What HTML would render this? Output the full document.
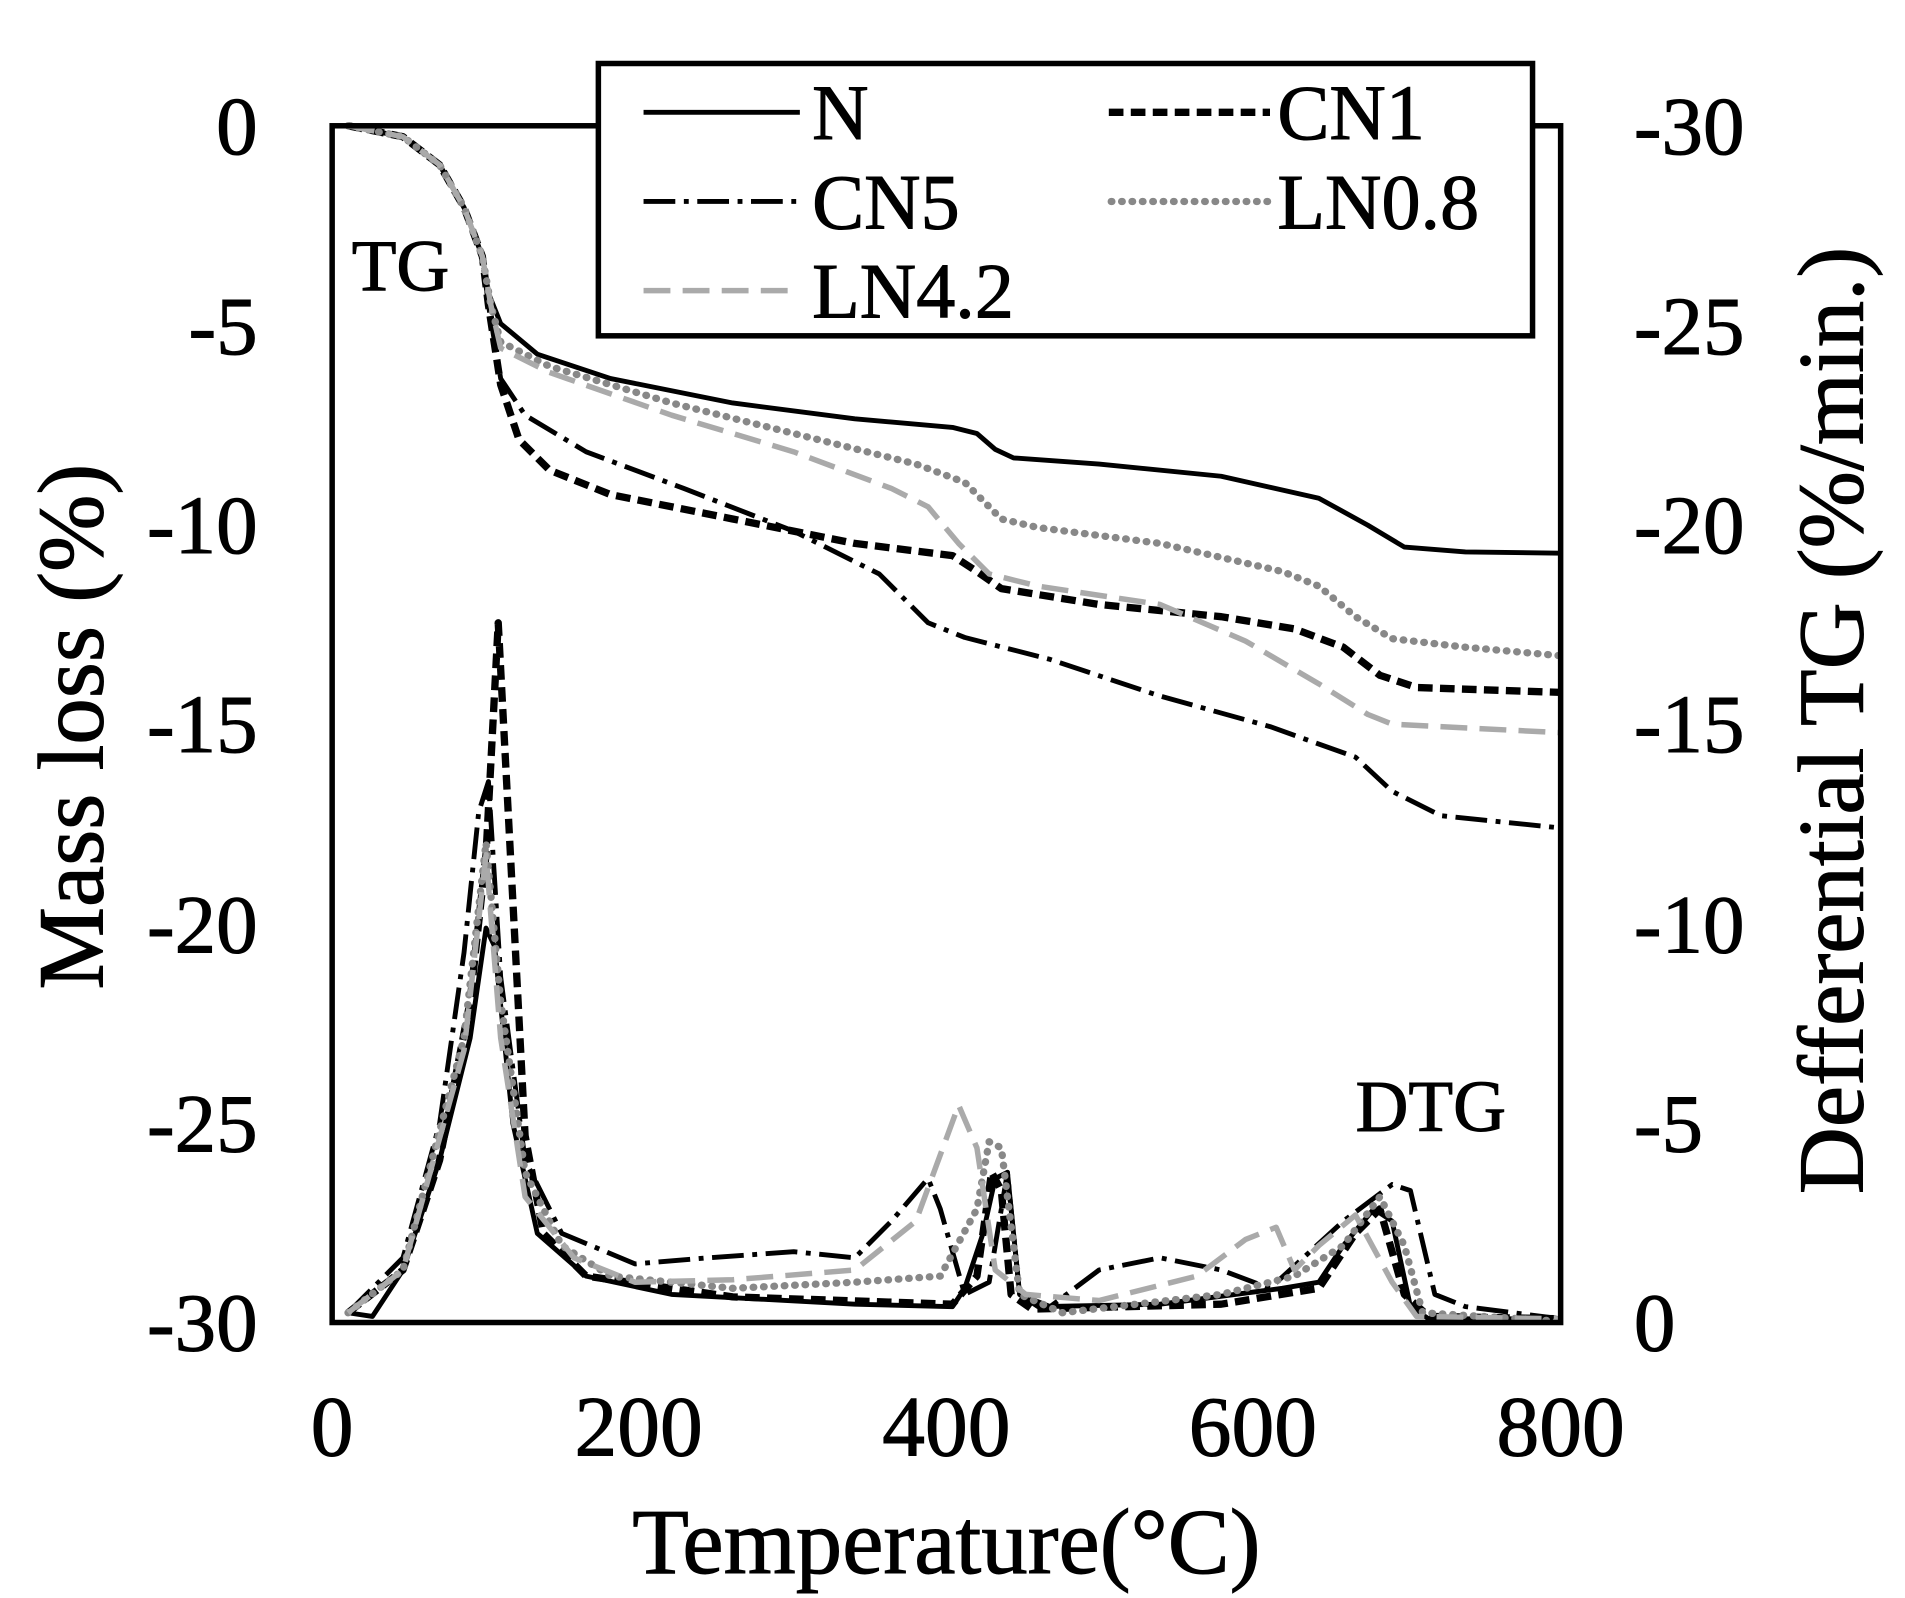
<!DOCTYPE html>
<html><head><meta charset="utf-8"><style>
html,body{margin:0;padding:0;background:#fff;}
svg{display:block}
text{font-family:"Liberation Serif",serif;fill:#000;stroke:#000;stroke-width:0.8}
</style></head><body>
<svg width="1905" height="1598" viewBox="0 0 1560 1308.6" preserveAspectRatio="none" xmlns="http://www.w3.org/2000/svg">
<rect x="0" y="0" width="1560" height="1308.6" fill="#fff"/>
<g fill="none" stroke-linejoin="round">
<!-- TG curves -->
<polyline stroke="#000" stroke-width="4" points="285,103 330,112 360,135 380,170 395,210 400,240 410,265 440,290 500,310 600,330 700,343 780,350 800,355 815,368 830,375 900,380 1000,390 1080,408 1120,430 1150,448 1200,452 1278,453"/>
<polyline stroke="#000" stroke-width="6" stroke-dasharray="12 6" points="285,103 330,112 360,135 380,170 395,210 400,250 410,315 425,360 450,385 500,405 600,425 700,445 780,455 800,468 820,482 900,495 1000,505 1060,515 1100,530 1130,553 1160,563 1278,567"/>
<polyline stroke="#000" stroke-width="4" stroke-dasharray="26 7 4 7" points="285,103 330,112 360,135 380,170 395,210 400,250 410,310 430,340 480,370 560,400 650,435 720,470 760,510 790,522 860,540 950,570 1040,595 1110,620 1140,648 1180,668 1278,678"/>
<polyline stroke="#888" stroke-width="6" stroke-linecap="round" stroke-dasharray="0.5 8" points="285,103 330,112 360,135 380,170 395,210 402,250 410,280 450,300 550,330 650,355 750,380 790,395 820,425 850,432 950,445 1050,468 1080,480 1110,505 1140,523 1200,530 1278,537"/>
<polyline stroke="#aaa" stroke-width="4.5" stroke-dasharray="22 10" points="285,103 330,112 360,135 380,170 395,210 402,250 410,285 450,305 550,340 650,370 730,400 760,415 785,445 810,470 850,480 950,495 1020,525 1080,560 1120,585 1140,593 1278,600"/>
<!-- DTG curves -->
<polyline stroke="#000" stroke-width="4" points="285,1075 305,1078 330,1040 360,950 385,850 398,760 405,775 420,920 440,1010 480,1045 550,1060 700,1068 780,1070 790,1055 805,1010 815,965 825,960 835,1060 850,1070 950,1068 1050,1055 1080,1050 1100,1020 1125,990 1140,1000 1155,1070 1170,1080 1278,1080"/>
<polyline stroke="#000" stroke-width="6" stroke-dasharray="12 6" points="285,1075 330,1040 360,950 385,820 398,700 408,510 418,700 430,930 445,1010 480,1045 600,1062 780,1068 800,1045 812,960 820,975 828,1060 845,1072 1000,1068 1080,1055 1110,1010 1130,990 1150,1060 1170,1078 1278,1080"/>
<polyline stroke="#000" stroke-width="4" stroke-dasharray="26 7 4 7" points="285,1075 330,1030 360,920 380,780 392,665 400,640 410,800 430,950 460,1010 520,1035 580,1030 650,1025 700,1030 730,1000 760,965 770,990 790,1060 810,1050 825,960 835,1060 860,1070 900,1040 950,1030 1000,1040 1040,1055 1100,1000 1140,970 1155,975 1175,1060 1200,1070 1278,1080"/>
<polyline stroke="#888" stroke-width="6" stroke-linecap="round" stroke-dasharray="0.5 8" points="285,1075 330,1040 380,850 398,690 410,820 430,960 460,1020 500,1045 600,1055 700,1050 770,1045 800,990 810,935 820,940 835,1060 870,1075 1000,1060 1060,1045 1100,1020 1130,980 1150,1020 1165,1075 1278,1082"/>
<polyline stroke="#aaa" stroke-width="4.5" stroke-dasharray="22 10" points="285,1075 330,1040 380,860 398,700 410,850 430,980 470,1030 520,1050 600,1048 700,1040 750,1000 785,905 800,940 815,1040 840,1060 900,1065 980,1045 1020,1015 1045,1005 1060,1040 1080,1020 1110,995 1140,1050 1160,1078 1278,1080"/>
</g>
<!-- frame -->
<rect x="272" y="103" width="1006" height="980" fill="none" stroke="#000" stroke-width="4.5"/>
<!-- legend -->
<rect x="490" y="52" width="765" height="223" fill="#fff" stroke="#000" stroke-width="4.5"/>
<g fill="none">
<line x1="527" y1="92" x2="655" y2="92" stroke="#000" stroke-width="4"/>
<line x1="908" y1="92" x2="1040" y2="92" stroke="#000" stroke-width="6" stroke-dasharray="12 6"/>
<line x1="527" y1="165" x2="655" y2="165" stroke="#000" stroke-width="4" stroke-dasharray="26 7 4 7"/>
<line x1="910" y1="165" x2="1040" y2="165" stroke="#888" stroke-width="6" stroke-linecap="round" stroke-dasharray="0.5 8"/>
<line x1="527" y1="238" x2="655" y2="238" stroke="#aaa" stroke-width="4.5" stroke-dasharray="22 10"/>
</g>
<g font-size="64">
<text x="665" y="114">N</text>
<text x="1046" y="114">CN1</text>
<text x="665" y="187">CN5</text>
<text x="1046" y="187">LN0.8</text>
<text x="665" y="260">LN4.2</text>
</g>
<!-- annotations -->
<text x="288" y="238" font-size="60">TG</text>
<text x="1110" y="926" font-size="60">DTG</text>
<!-- left ticks -->
<g font-size="68" text-anchor="end">
<text x="211" y="126">0</text>
<text x="211" y="290">-5</text>
<text x="211" y="453">-10</text>
<text x="211" y="616">-15</text>
<text x="211" y="780">-20</text>
<text x="211" y="943">-25</text>
<text x="211" y="1106">-30</text>
</g>
<g font-size="68" text-anchor="start">
<text x="1338" y="126">-30</text>
<text x="1338" y="290">-25</text>
<text x="1338" y="453">-20</text>
<text x="1338" y="616">-15</text>
<text x="1338" y="780">-10</text>
<text x="1338" y="943">-5</text>
<text x="1338" y="1106">0</text>
</g>
<g font-size="70" text-anchor="middle">
<text x="272" y="1192">0</text>
<text x="523" y="1192">200</text>
<text x="775" y="1192">400</text>
<text x="1026" y="1192">600</text>
<text x="1278" y="1192">800</text>
</g>
<text x="775" y="1288" font-size="76" text-anchor="middle">Temperature(°C)</text>
<text transform="translate(84,595) rotate(-90)" font-size="76" text-anchor="middle">Mass loss (%)</text>
<text transform="translate(1525,590) rotate(-90)" font-size="76" text-anchor="middle">Defferential TG (%/min.)</text>
</svg>
</body></html>
